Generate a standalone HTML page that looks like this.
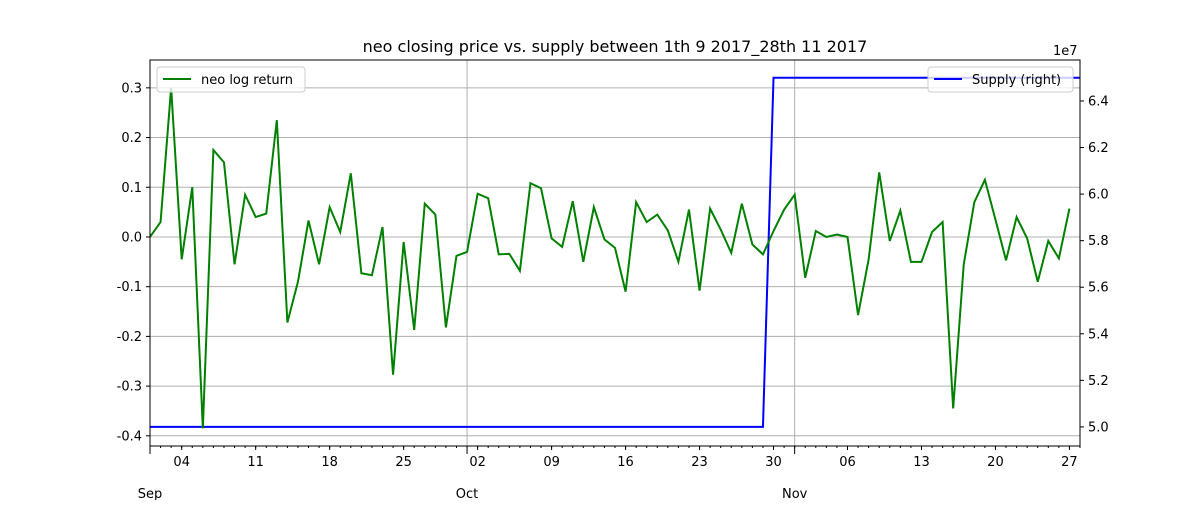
<!DOCTYPE html>
<html><head><meta charset="utf-8"><style>
body{margin:0;background:#fff;font-family:"Liberation Sans","DejaVu Sans",sans-serif}
svg text{font-family:"DejaVu Sans","Liberation Sans",sans-serif;fill:#000}
</style></head><body>
<svg id="chart" width="1200" height="500" xmlns="http://www.w3.org/2000/svg">
<text x="615" y="52" font-size="16" text-anchor="middle">neo closing price vs. supply between 1th 9 2017_28th 11 2017</text>
<g id="grid"></g><g id="series"></g><g id="axes"></g>
</svg>
<script>
const logReturns=[0.0,0.03,0.30,-0.045,0.10,-0.385,0.175,0.15,-0.055,0.085,0.04,0.047,0.235,-0.172,-0.09,0.033,-0.055,0.06,0.01,0.128,-0.073,-0.077,0.02,-0.277,-0.01,-0.187,0.067,0.045,-0.182,-0.038,-0.03,0.087,0.078,-0.035,-0.034,-0.068,0.108,0.098,-0.003,-0.02,0.072,-0.05,0.06,-0.005,-0.022,-0.11,0.07,0.03,0.045,0.013,-0.05,0.055,-0.108,0.057,0.015,-0.032,0.067,-0.015,-0.035,0.012,0.055,0.085,-0.082,0.012,0.0,0.005,0.0,-0.157,-0.045,0.13,-0.008,0.053,-0.05,-0.05,0.01,0.03,-0.345,-0.055,0.07,0.115,0.035,-0.047,0.04,-0.003,-0.09,-0.008,-0.043,0.057];
const supplyLow=5.0e7, supplyHigh=6.5e7, supplyChangeDay=59, supplyDays=89;
const leftTicks=[-0.4,-0.3,-0.2,-0.1,0.0,0.1,0.2,0.3];
const rightTicks=[5.0,5.2,5.4,5.6,5.8,6.0,6.2,6.4];
const dayLabels=[[3,"04"],[10,"11"],[17,"18"],[24,"25"],[31,"02"],[38,"09"],[45,"16"],[52,"23"],[59,"30"],[66,"06"],[73,"13"],[80,"20"],[87,"27"]];
const monthLabels=[[0,"Sep"],[30,"Oct"],[61,"Nov"]];
const supply=Array.from({length:supplyDays},(_,i)=>i<supplyChangeDay?supplyLow:supplyHigh);

const X0=150,X1=1080,Y0=60,Y1=446,ND=88;
const x=d=>X0+(d/ND)*(X1-X0);
const yL=v=>Y0+(0.356-v)/(0.356+0.4205)*(Y1-Y0);
const yR=v=>Y0+(6.576-v/1e7)/(6.576-4.918)*(Y1-Y0);
const NS="http://www.w3.org/2000/svg";
function mk(p,tag,at,txt){const e=document.createElementNS(NS,tag);for(const k in at)e.setAttribute(k,at[k]);if(txt!=null)e.textContent=txt;p.appendChild(e);return e;}
const g=document.getElementById('grid'),s=document.getElementById('series'),a=document.getElementById('axes');
leftTicks.forEach(v=>{const y=yL(v);
 const l=mk(g,'line',{x1:X0,x2:X1,y1:y,y2:y,stroke:'#b0b0b0','stroke-width':1});
 
 
 mk(a,'line',{x1:X0-4,x2:X0,y1:y,y2:y,stroke:'#000'});
 const t=mk(a,'text',{x:X0-8,y:y+4.5,'font-size':13,'text-anchor':'end'},v.toFixed(1));
 
 
});
rightTicks.forEach(v=>{const y=yR(v*1e7);
 mk(a,'line',{x1:X1,x2:X1+4,y1:y,y2:y,stroke:'#000'});
 const t=mk(a,'text',{x:X1+8,y:y+4.5,'font-size':13},v.toFixed(1));
 
 
});
const ex=mk(a,'text',{x:1053,y:55,'font-size':13},'1e7');


for(let d=0;d<=ND;d++){mk(a,'line',{x1:x(d),x2:x(d),y1:Y1,y2:Y1+2,stroke:'#000'});}
dayLabels.forEach(([d,l])=>{mk(a,'line',{x1:x(d),x2:x(d),y1:Y1,y2:Y1+4,stroke:'#000'});
 const t=mk(a,'text',{x:x(d),y:Y1+20,'font-size':13,'text-anchor':'middle'},l);
 
 
});
monthLabels.forEach(([d,l])=>{
 if(d>0){const gl=mk(g,'line',{x1:x(d),x2:x(d),y1:Y0,y2:Y1,stroke:'#b0b0b0'});
  
  }
 mk(a,'line',{x1:x(d),x2:x(d),y1:Y1,y2:Y1+8,stroke:'#000','stroke-width':1});
 const t=mk(a,'text',{x:x(d),y:Y1+52,'font-size':13,'text-anchor':'middle'},l);
 
 
});
const ps=mk(s,'polyline',{points:supply.map((v,i)=>x(i)+','+yR(v)).join(' '),fill:'none',stroke:'#0000ff','stroke-width':2});


const pl=mk(s,'polyline',{points:logReturns.map((v,i)=>x(i)+','+yL(v)).join(' '),fill:'none',stroke:'#008000','stroke-width':2});


const fr=mk(a,'rect',{x:X0,y:Y0,width:X1-X0,height:Y1-Y0,fill:'none',stroke:'#000','stroke-width':1});


const lg1=mk(a,'g',{});


mk(lg1,'rect',{x:157,y:67,width:148,height:25,rx:3,fill:'#fff','fill-opacity':0.8,stroke:'#ccc'});
mk(lg1,'line',{x1:163,x2:191,y1:79,y2:79,stroke:'#008000','stroke-width':2});
mk(lg1,'text',{x:201,y:84,'font-size':13},'neo log return');
const lg2=mk(a,'g',{});


mk(lg2,'rect',{x:928,y:67,width:145,height:25,rx:3,fill:'#fff','fill-opacity':0.8,stroke:'#ccc'});
mk(lg2,'line',{x1:934,x2:962,y1:79,y2:79,stroke:'#0000ff','stroke-width':2});
mk(lg2,'text',{x:972,y:84,'font-size':13},'Supply (right)');
</script>
</body></html>
